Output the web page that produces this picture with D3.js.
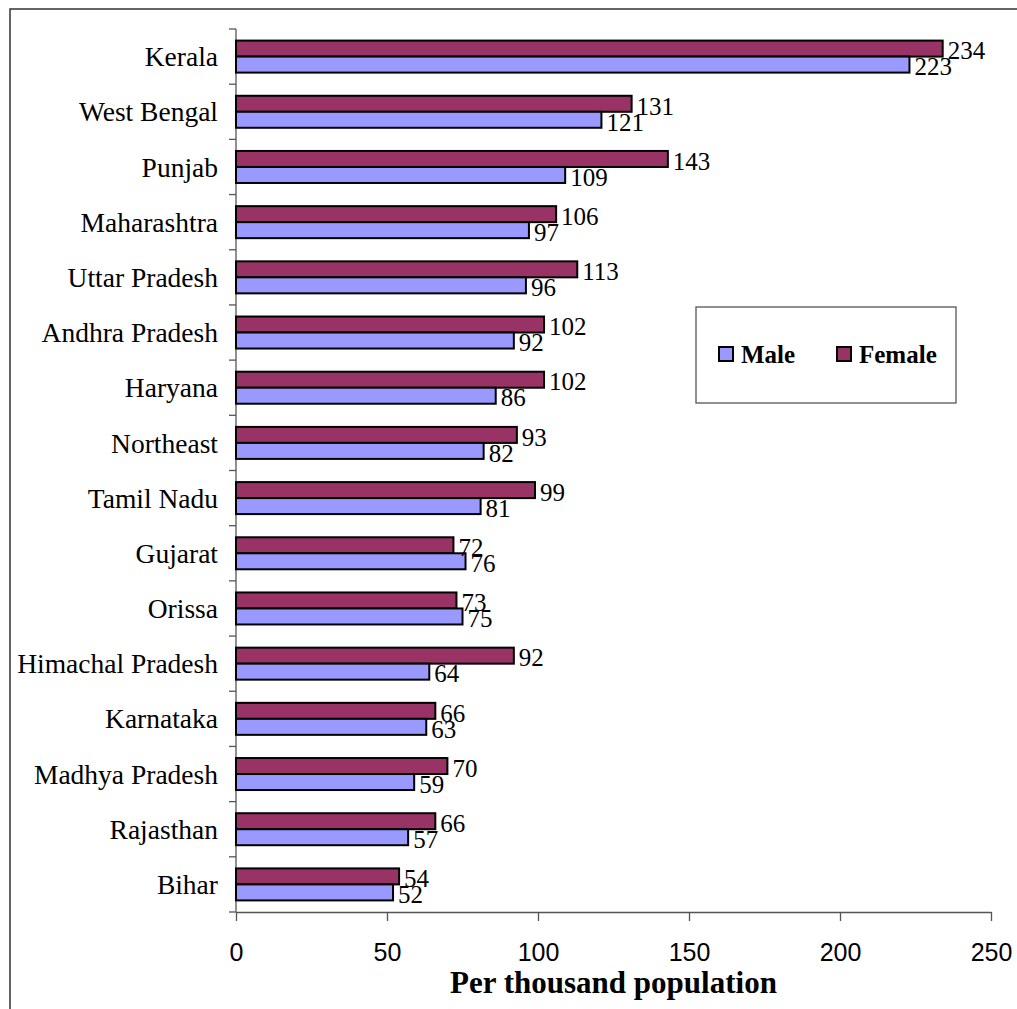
<!DOCTYPE html>
<meta charset="utf-8">
<script src="https://d3js.org/d3.v7.min.js"></script>
<style>
body { margin: 0; background: #fff; }
.serif { font-family: "Liberation Serif", "Times New Roman", serif; }
.yAxis text { font-family: "Liberation Serif", serif; font-size: 27.5px; fill: #000; }
.xAxis text { font-family: "Liberation Sans", Arial, sans-serif; font-size: 25px; fill: #000; }
.yAxis line, .yAxis path, .xAxis line, .xAxis path { stroke: #555; stroke-width: 1.3; }
</style>
<body>
<div id="chart"></div>
<script>

// categories, top to bottom
var states = ["Kerala", "West Bengal", "Punjab", "Maharashtra", "Uttar Pradesh",
  "Andhra Pradesh", "Haryana", "Northeast", "Tamil Nadu", "Gujarat", "Orissa",
  "Himachal Pradesh", "Karnataka", "Madhya Pradesh", "Rajasthan", "Bihar"]
var male   = [223, 121, 109, 97, 96, 92, 86, 82, 81, 76, 75, 64, 63, 59, 57, 52]
var female = [234, 131, 143, 106, 113, 102, 102, 93, 99, 72, 73, 92, 66, 70, 66, 54]
var xTicks = [0, 50, 100, 150, 200, 250]

var W = 1017, H = 1009

var svg = d3.select("#chart")
  .append("svg")
    .attr("width", W)
    .attr("height", H)

// outer frame (runs off the right and bottom edges)
svg.append("rect")
  .attr("x", 10).attr("y", 9)
  .attr("width", W + 20).attr("height", H + 20)
  .attr("fill", "none")
  .attr("stroke", "#333")
  .attr("stroke-width", 1.5)

var x = d3.scaleLinear()
  .domain([0, 250])
  .range([236, 991])

var y = d3.scaleBand()
  .domain(states)
  .range([29, 912])

var barH = 16

// y axis: ticks on band boundaries
var yg = svg.append("g").attr("class", "yAxis")
yg.append("line")
  .attr("x1", x(0)).attr("x2", x(0))
  .attr("y1", 29).attr("y2", 912)
yg.selectAll(".tk")
  .data(d3.range(states.length + 1))
  .enter().append("line")
    .attr("x1", x(0) - 7).attr("x2", x(0))
    .attr("y1", function(i){ return 29 + i * y.bandwidth() })
    .attr("y2", function(i){ return 29 + i * y.bandwidth() })
yg.selectAll("text")
  .data(states)
  .enter().append("text")
    .attr("x", 218)
    .attr("y", function(d){ return y(d) + y.bandwidth() / 2 })
    .attr("dy", "0.35em")
    .attr("text-anchor", "end")
    .text(function(d){ return d })

// x axis
svg.append("g")
  .attr("class", "xAxis")
  .attr("transform", "translate(0,912)")
  .call(d3.axisBottom(x).tickValues(xTicks).tickSize(9).tickSizeOuter(0).tickPadding(22))

svg.append("text")
  .attr("class", "serif")
  .attr("x", (x(0) + x(250)) / 2)
  .attr("y", 993)
  .attr("text-anchor", "middle")
  .attr("font-size", 31)
  .attr("font-weight", "bold")
  .text("Per thousand population")

var colors = { Male: "#9999ff", Female: "#993366" }

// bars
var rows = states.map(function(s, i){ return {state: s, male: male[i], female: female[i]} })

var g = svg.selectAll(".row")
  .data(rows)
  .enter().append("g")
    .attr("transform", function(d){ return "translate(0," + (y(d.state) + y.bandwidth() / 2) + ")" })

g.append("rect")
  .attr("x", x(0))
  .attr("y", -barH)
  .attr("width", function(d){ return x(d.female) - x(0) })
  .attr("height", barH)
  .attr("fill", colors.Female)
  .attr("stroke", "#000")
  .attr("stroke-width", 2)

g.append("rect")
  .attr("x", x(0))
  .attr("y", 0)
  .attr("width", function(d){ return x(d.male) - x(0) })
  .attr("height", barH)
  .attr("fill", colors.Male)
  .attr("stroke", "#000")
  .attr("stroke-width", 2)

g.append("text")
  .attr("class", "serif")
  .attr("x", function(d){ return x(d.female) + 5 })
  .attr("y", -barH / 2 + 2)
  .attr("dy", "0.35em")
  .attr("font-size", 25)
  .text(function(d){ return d.female })

g.append("text")
  .attr("class", "serif")
  .attr("x", function(d){ return x(d.male) + 5 })
  .attr("y", barH / 2 + 2)
  .attr("dy", "0.35em")
  .attr("font-size", 25)
  .text(function(d){ return d.male })

// legend
var lg = svg.append("g").attr("transform", "translate(696,307)")
lg.append("rect")
  .attr("width", 260).attr("height", 96)
  .attr("fill", "#fff")
  .attr("stroke", "#555")
  .attr("stroke-width", 1.3)

var keys = ["Male", "Female"]
var keyX = [23, 141]
keys.forEach(function(k, i){
  lg.append("rect")
    .attr("x", keyX[i]).attr("y", 40)
    .attr("width", 14).attr("height", 14)
    .attr("fill", colors[k])
    .attr("stroke", "#000")
    .attr("stroke-width", 2)
  lg.append("text")
    .attr("class", "serif")
    .attr("x", keyX[i] + 22)
    .attr("y", 56)
    .attr("font-size", 25)
    .attr("font-weight", "bold")
    .text(k)
})

</script>
</body>
